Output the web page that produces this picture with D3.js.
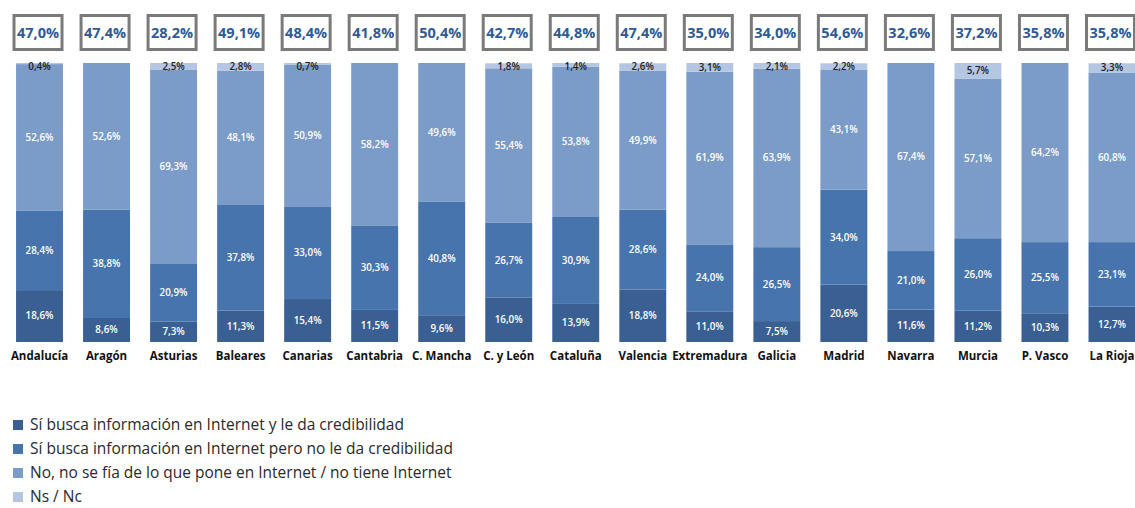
<!DOCTYPE html>
<html>
<head>
<meta charset="utf-8">
<script src="https://cdn.jsdelivr.net/npm/d3@7"></script>
<style>
  body { margin: 0; background: #fff; }
  svg { display: block; font-family: "Open Sans", sans-serif; }
</style>
</head>
<body>
<div id="chart"></div>
<script>
// regions, left to right
var regions = ["Andalucía", "Aragón", "Asturias", "Baleares", "Canarias", "Cantabria", "C. Mancha",
  "C. y León", "Cataluña", "Valencia", "Extremadura", "Galicia", "Madrid", "Navarra", "Murcia",
  "P. Vasco", "La Rioja"];

var seriesNames = [
  "Sí busca información en Internet y le da credibilidad",
  "Sí busca información en Internet pero no le da credibilidad",
  "No, no se fía de lo que pone en Internet / no tiene Internet",
  "Ns / Nc"
];

// values per series (%), same order as regions
var siCredibilidad   = [18.6, 8.6, 7.3, 11.3, 15.4, 11.5, 9.6, 16.0, 13.9, 18.8, 11.0, 7.5, 20.6, 11.6, 11.2, 10.3, 12.7];
var siNoCredibilidad = [28.4, 38.8, 20.9, 37.8, 33.0, 30.3, 40.8, 26.7, 30.9, 28.6, 24.0, 26.5, 34.0, 21.0, 26.0, 25.5, 23.1];
var noSeFia          = [52.6, 52.6, 69.3, 48.1, 50.9, 58.2, 49.6, 55.4, 53.8, 49.9, 61.9, 63.9, 43.1, 67.4, 57.1, 64.2, 60.8];
var nsNc             = [0.4, 0, 2.5, 2.8, 0.7, 0, 0, 1.8, 1.4, 2.6, 3.1, 2.1, 2.2, 0, 5.7, 0, 3.3];

// boxed totals on top
var totals = [47.0, 47.4, 28.2, 49.1, 48.4, 41.8, 50.4, 42.7, 44.8, 47.4, 35.0, 34.0, 54.6, 32.6, 37.2, 35.8, 35.8];

var colors = ["#3a5f93", "#4774ad", "#7b9bc9", "#b5c6e2"];
var labelColors = ["#fff", "#fff", "#fff", "#222"];

var width = 1135, height = 508;

var svg = d3.select("#chart").append("svg")
    .attr("width", width)
    .attr("height", height);

var x = d3.scaleBand()
    .domain(regions)
    .range([6, 1145.5])
    .paddingInner(0.3)
    .paddingOuter(0.15);

var y = d3.scaleLinear()
    .domain([0, 100])
    .range([342, 63]);

var rows = regions.map(function(r, i) {
  return { region: r, s0: siCredibilidad[i], s1: siNoCredibilidad[i], s2: noSeFia[i], s3: nsNc[i], total: totals[i] };
});

var stack = d3.stack().keys(["s0", "s1", "s2", "s3"]);
var layers = stack(rows);

var fmt = function(v) { return v.toFixed(1).replace(".", ",") + "%"; };

var layer = svg.selectAll("g.layer")
    .data(layers)
    .enter().append("g")
    .attr("class", "layer")
    .attr("fill", function(d, i) { return colors[i]; });

layer.selectAll("rect")
    .data(function(d) { return d; })
    .enter().append("rect")
    .attr("x", function(d) { return x(d.data.region); })
    .attr("y", function(d) { return y(d[1]); })
    .attr("width", x.bandwidth())
    .attr("height", function(d) { return y(d[0]) - y(d[1]); });

// segment labels
layers.forEach(function(l, i) {
  svg.append("g")
    .selectAll("text")
    .data(l.filter(function(d) { return d[1] - d[0] > 0; }))
    .enter().append("text")
    .attr("x", function(d) { return x(d.data.region) + x.bandwidth() / 2; })
    .attr("y", function(d) {
      var cy = (y(d[0]) + y(d[1])) / 2;
      if (i == 3) cy = Math.max(cy, 67);
      return cy;
    })
    .attr("dy", "0.35em")
    .attr("text-anchor", "middle")
    .attr("font-size", "9.8px")
    .attr("font-weight", 600)
    .attr("fill", labelColors[i])
    .text(function(d) { return fmt(d[1] - d[0]); });
});

// boxes with totals
var boxW = 51, boxH = 37;
var box = svg.append("g").selectAll("g")
    .data(rows)
    .enter().append("g")
    .attr("transform", function(d) { return "translate(" + (x(d.region) + x.bandwidth() / 2 - 1.5) + ",0)"; });

box.append("rect")
    .attr("x", -boxW / 2 + 1.5)
    .attr("y", 15.5)
    .attr("width", boxW - 3)
    .attr("height", boxH - 3)
    .attr("fill", "#fff")
    .attr("stroke", "#7a7a7a")
    .attr("stroke-width", 3);

box.append("text")
    .attr("x", 0)
    .attr("y", 33)
    .attr("dy", "0.35em")
    .attr("text-anchor", "middle")
    .attr("font-size", "14.5px")
    .attr("font-weight", 700)
    .attr("fill", "#2f5a96")
    .text(function(d) { return fmt(d.total); });

// category axis labels
var xAxis = d3.axisBottom(x).tickSize(0).tickPadding(0);
svg.append("g")
    .attr("transform", "translate(0,352)")
    .call(xAxis)
    .call(function(g) { g.select(".domain").remove(); })
    .selectAll("text")
    .attr("dy", "0.71em")
    .attr("font-family", "Open Sans, sans-serif")
    .attr("font-size", "11.5px")
    .attr("font-weight", 700)
    .attr("fill", "#111");

// legend
var legend = svg.append("g").selectAll("g")
    .data(seriesNames)
    .enter().append("g")
    .attr("transform", function(d, i) { return "translate(13," + (425 + i * 24) + ")"; });

legend.append("rect")
    .attr("x", 0)
    .attr("y", -5)
    .attr("width", 10)
    .attr("height", 10)
    .attr("fill", function(d, i) { return colors[i]; });

legend.append("text")
    .attr("x", 17)
    .attr("y", 0)
    .attr("dy", "0.35em")
    .attr("font-size", "15.5px")
    .attr("fill", "#2a2a2a")
    .text(function(d) { return d; });
</script>
</body>
</html>
